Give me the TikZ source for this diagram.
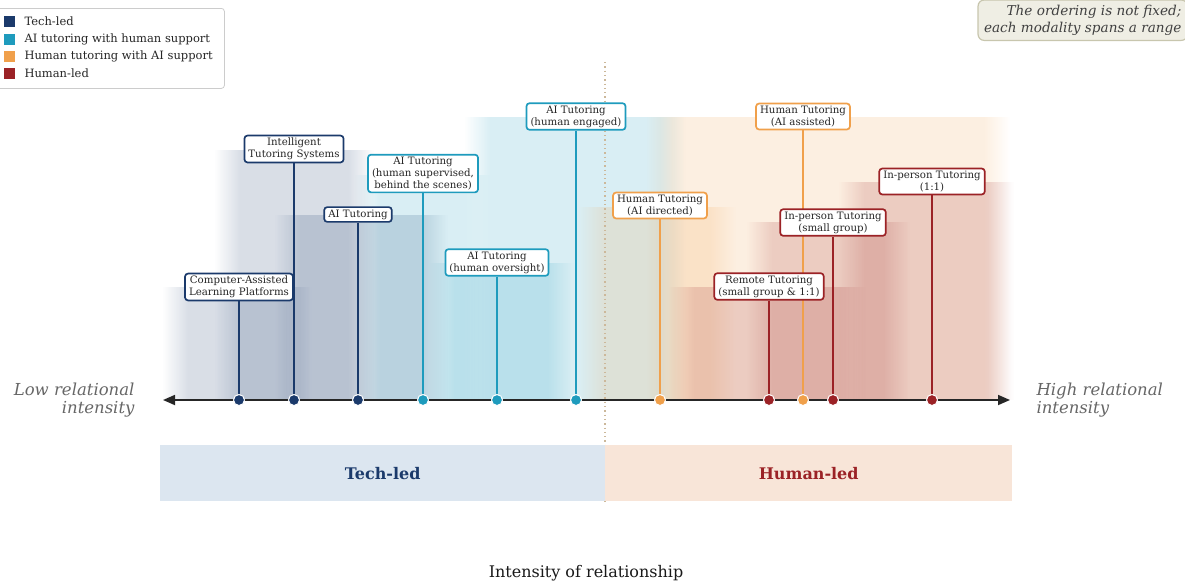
\documentclass[tikz,border=0pt]{standalone}
\usepackage{fontspec}
\setmainfont{DejaVu Serif}
\usetikzlibrary{arrows.meta,fadings}
\definecolor{techc}{HTML}{1B3A6B}
\definecolor{aic}{HTML}{1E9BBD}
\definecolor{haic}{HTML}{F0A04B}
\definecolor{humc}{HTML}{9B2226}
\definecolor{techband}{HTML}{DCE6F0}
\definecolor{humband}{HTML}{F8E5D8}
\definecolor{notefill}{HTML}{EFEEE4}
\definecolor{noteline}{HTML}{C8C6AE}
\definecolor{divider}{HTML}{CCB89A}
\tikzfading[name=fadeL, left color=transparent!100, right color=transparent!0]
\tikzfading[name=fadeR, left color=transparent!0, right color=transparent!100]
\pgfdeclarelayer{bg}
\pgfdeclarelayer{mid}
\pgfsetlayers{bg,mid,main}
\tikzset{regfill/.style={fill=#1, fill opacity=0.17}}
\newcommand{\bgregion}[4]{%
  \fill[regfill=#1, path fading=fadeL] (#2,400) rectangle ({#2+26},#4);
  \fill[regfill=#1] ({#2+26},400) rectangle ({#3-26},#4);
  \fill[regfill=#1, path fading=fadeR] ({#3-26},400) rectangle (#3,#4);}
\begin{document}
\begin{tikzpicture}[x=1pt,y=-1pt,
  lab/.style={draw=#1, line width=1.7pt, fill=white, rounded corners=3pt, align=center,
    font=\fontsize{10.2}{11.8}\selectfont, text=black!85, inner xsep=4pt, inner ysep=2.5pt},
  mk/.style={circle, fill=#1, draw=white, line width=1pt, minimum size=11pt, inner sep=0pt},
  stem/.style={draw=#1, line width=1.7pt},
  sq/.style={fill=#1, minimum size=11pt, inner sep=0pt},
  legtext/.style={anchor=west, font=\fontsize{11.5}{13}\selectfont, text=black!85},
  endlab/.style={font=\fontsize{16.5}{18.5}\selectfont\itshape, text=black!60},
  bandlab/.style={minimum width=445pt, minimum height=56pt, anchor=north west, inner sep=0pt,
    font=\fontsize{16}{18}\selectfont\bfseries}]
\useasboundingbox (0,0) rectangle (1185,587);

% background regions
\begin{pgfonlayer}{bg}
\bgregion{techc}{162}{312}{287}
\bgregion{techc}{214}{374}{150}
\bgregion{techc}{274}{448}{215}
\bgregion{aic}{354}{490}{175}
\bgregion{aic}{428}{574}{263}
\bgregion{aic}{464}{686}{117}
\bgregion{haic}{578}{736}{207}
\bgregion{haic}{646}{1010}{117}
\bgregion{humc}{668}{866}{287}
\bgregion{humc}{746}{910}{222}
\bgregion{humc}{838}{1014}{182}
\end{pgfonlayer}

% bands
\node[bandlab, fill=techband, text=techc] (techband) at (160,445) {Tech-led};
\node[bandlab, fill=humband, text=humc, minimum width=407pt] (humband) at (605,445) {Human-led};

% divider
\begin{pgfonlayer}{mid}
\draw[divider, line width=1.3pt, dash pattern=on 1.3pt off 3pt] (605,62) -- (605,501);
\end{pgfonlayer}

% axis
\coordinate (axL) at (163,400);
\coordinate (axR) at (1010,400);
\begin{pgfonlayer}{mid}
\draw[line width=1.7pt, black!85, {Triangle[length=12pt,width=10pt]}-{Triangle[length=12pt,width=10pt]}] (axL) -- (axR);
\end{pgfonlayer}

% labels
\node[lab=techc] (calp) at (239,287) {Computer-Assisted\\Learning Platforms};
\node[lab=techc] (its) at (294,149) {Intelligent\\Tutoring Systems};
\node[lab=techc] (ait) at (358,214.5) {AI Tutoring};
\node[lab=aic] (aisup) at (423,173.5) {AI Tutoring\\(human supervised,\\behind the scenes)};
\node[lab=aic] (aiov) at (497,262.5) {AI Tutoring\\(human oversight)};
\node[lab=aic] (aieng) at (576,116.5) {AI Tutoring\\(human engaged)};
\node[lab=haic] (htdir) at (660,205.5) {Human Tutoring\\(AI directed)};
\node[lab=humc] (remote) at (769,286.5) {Remote Tutoring\\(small group \& 1:1)};
\node[lab=haic] (htass) at (803,116.5) {Human Tutoring\\(AI assisted)};
\node[lab=humc] (ipsg) at (833,222.5) {In-person Tutoring\\(small group)};
\node[lab=humc] (ip11) at (932,181.5) {In-person Tutoring\\(1:1)};

% markers
\node[mk=techc] (m1) at (239,400) {};
\node[mk=techc] (m2) at (294,400) {};
\node[mk=techc] (m3) at (358,400) {};
\node[mk=aic] (m4) at (423,400) {};
\node[mk=aic] (m5) at (497,400) {};
\node[mk=aic] (m6) at (576,400) {};
\node[mk=haic] (m7) at (660,400) {};
\node[mk=humc] (m8) at (769,400) {};
\node[mk=haic] (m9) at (803,400) {};
\node[mk=humc] (m10) at (833,400) {};
\node[mk=humc] (m11) at (932,400) {};

% stems
\begin{pgfonlayer}{mid}
\draw[stem=techc] (calp.south) -- (m1.center);
\draw[stem=techc] (its.south) -- (m2.center);
\draw[stem=techc] (ait.south) -- (m3.center);
\draw[stem=aic] (aisup.south) -- (m4.center);
\draw[stem=aic] (aiov.south) -- (m5.center);
\draw[stem=aic] (aieng.south) -- (m6.center);
\draw[stem=haic] (htdir.south) -- (m7.center);
\draw[stem=humc] (remote.south) -- (m8.center);
\draw[stem=haic] (htass.south) -- (m9.center);
\draw[stem=humc] (ipsg.south) -- (m10.center);
\draw[stem=humc] (ip11.south) -- (m11.center);
\end{pgfonlayer}

% axis end labels
\node[endlab, anchor=east, align=right] (lowlab) at (138,400) {Low relational\\intensity};
\node[endlab, anchor=west, align=left] (highlab) at (1033,400) {High relational\\intensity};

% x-axis title
\node[font=\fontsize{16}{18}\selectfont, text=black!90] (xtitle) at (586,573) {Intensity of relationship};

% legend
\node[draw=black!20, line width=0.8pt, fill=white, rounded corners=3pt, minimum width=229pt,
  minimum height=80pt, anchor=north west, inner sep=0pt] (legend) at (-5,8) {};
\node[sq=techc] (lg1) at (9,21) {};
\node[legtext] (lt1) at (21,21) {Tech-led};
\node[sq=aic] (lg2) at (9,39) {};
\node[legtext] (lt2) at (21,39) {AI tutoring with human support};
\node[sq=haic] (lg3) at (9,56) {};
\node[legtext] (lt3) at (21,56) {Human tutoring with AI support};
\node[sq=humc] (lg4) at (9,73) {};
\node[legtext] (lt4) at (21,73) {Human-led};

% note
\node[draw=noteline, line width=1.2pt, fill=notefill, rounded corners=6pt, anchor=south east,
  align=right, inner xsep=6pt, inner ysep=5pt, font=\fontsize{13.6}{17}\selectfont\itshape, text=black!75]
  (note) at (1188,41) {The ordering is not fixed;\\each modality spans a range};
\end{tikzpicture}
\end{document}
